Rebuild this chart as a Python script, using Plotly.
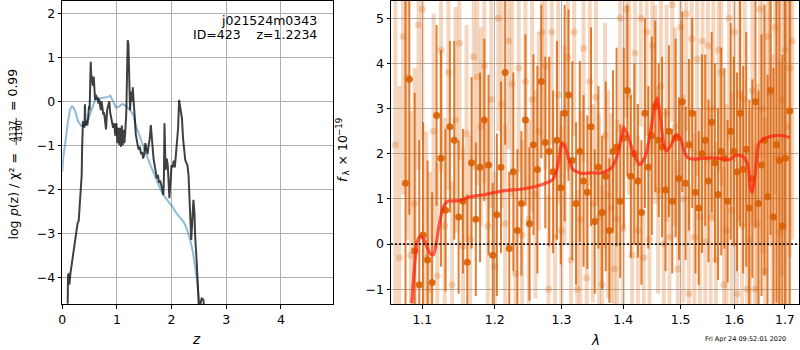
import plotly.graph_objects as go
import math

# ---------------- Left panel: log p(z) ----------------
pz_z = [0.099, 0.105, 0.12, 0.13, 0.15, 0.18, 0.21, 0.25, 0.28, 0.30,
        0.32, 0.34, 0.355, 0.362, 0.37, 0.378, 0.385, 0.395, 0.405, 0.415,
        0.425, 0.44, 0.46, 0.475, 0.49, 0.50, 0.51, 0.52, 0.53, 0.545,
        0.56, 0.575, 0.59, 0.60, 0.615, 0.63, 0.645, 0.66, 0.675, 0.69,
        0.705, 0.72, 0.735, 0.75, 0.765, 0.78, 0.80, 0.82, 0.84, 0.86,
        0.875, 0.89, 0.91, 0.93, 0.95, 0.97, 0.99, 1.01, 1.03, 1.045,
        1.06, 1.075, 1.09, 1.105, 1.12, 1.135, 1.15, 1.17, 1.185, 1.197,
        1.21, 1.225, 1.24, 1.255, 1.265, 1.28, 1.29, 1.30, 1.31, 1.326,
        1.345, 1.36, 1.38, 1.40, 1.42, 1.44, 1.46, 1.48, 1.50, 1.52,
        1.54, 1.56, 1.58, 1.60, 1.62, 1.635, 1.65, 1.67, 1.69, 1.71,
        1.73, 1.75, 1.77, 1.79, 1.81, 1.83, 1.85, 1.86, 1.87, 1.88,
        1.89, 1.91, 1.93, 1.96, 1.98, 2.00, 2.02, 2.04, 2.06, 2.08,
        2.10, 2.12, 2.137, 2.16, 2.19, 2.21, 2.23, 2.25, 2.27, 2.29,
        2.31, 2.33, 2.34, 2.36, 2.38, 2.40, 2.42, 2.43, 2.46, 2.48,
        2.50, 2.53, 2.55, 2.58, 2.60]
pz_logp = [-4.6, -3.95, -3.91, -4.17, -3.9, -3.64, -3.45, -3.04, -2.77, -2.72,
           -2.24, -1.98, -1.67, -1.1, -0.6, -0.45, -0.55, -0.5, -0.6, -0.07,
           -0.55, -0.45, -0.55, -0.35, -0.1, -0.2, 0.3, 0.9, 0.6, 0.41,
           0.35, 0.56, 0.25, 0.03, 0.15, 0.05, 0.1, -0.05, 0.05, -0.1,
           -0.2, 0.0, -0.15, -0.3, -0.25, -0.5, -0.64, -0.2, -0.05, 0.0,
           -0.25, -0.35, -0.45, -0.6, -0.5, -0.78, -0.5, -0.95, -0.6, -1.0,
           -0.6, -1.03, -0.55, -1.0, -0.65, -0.95, -0.75, -0.3, 0.6, 1.39,
           1.3, 0.49, -0.2, 0.1, 0.22, 0.0, 0.32, 0.1, -0.25, -0.35,
           -0.75, -0.9, -1.0, -1.1, -1.03, -1.2, -1.15, -1.3, -1.2, -0.95,
           -1.1, -1.2, -1.0, -0.85, -0.54, -0.8, -1.05, -1.3, -1.45, -1.6,
           -1.75, -1.67, -1.85, -1.8, -1.95, -2.0, -2.13, -1.7, -0.5, -0.9,
           -1.56, -1.3, -1.45, -2.2, -1.7, -1.45, -1.5, -1.35, -1.5, -1.2,
           -1.0, -0.6, 0.03, -0.2, -0.39, -0.85, -1.1, -1.33, -1.4, -1.45,
           -1.67, -2.2, -2.58, -3.15, -2.7, -2.24, -2.55, -3.04, -3.65, -4.2,
           -4.7, -4.6, -4.48, -4.5, -4.7]

prior_z = [0.0, 0.02, 0.05, 0.08, 0.10, 0.14, 0.18, 0.23, 0.29, 0.35,
           0.41, 0.48, 0.54, 0.60, 0.69, 0.78, 0.84, 0.88, 0.93, 0.98,
           1.04, 1.10, 1.17, 1.24, 1.30, 1.36, 1.42, 1.48, 1.54, 1.60,
           1.66, 1.73, 1.79, 1.85, 1.91, 1.97, 2.03, 2.09, 2.15, 2.22,
           2.28, 2.34, 2.39, 2.43, 2.47, 2.51]
prior_logp = [-1.6, -1.25, -0.99, -0.65, -0.49, -0.2, -0.1, -0.2, -0.46, -0.56,
              -0.54, -0.39, -0.2, 0.03, 0.07, 0.08, 0.1, 0.13, -0.01, -0.14,
              -0.12, -0.06, -0.11, -0.2, -0.31, -0.61, -0.8, -1.03, -1.22, -1.41,
              -1.6, -1.79, -1.98, -2.13, -2.22, -2.32, -2.42, -2.55, -2.64, -2.74,
              -2.9, -3.15, -3.42, -3.72, -4.1, -4.6]

# ---------------- Right panel: spectrum ----------------
dark_wave = [1.078, 1.083, 1.090, 1.096, 1.101, 1.107, 1.113, 1.119, 1.125, 1.131,
             1.137, 1.143, 1.149, 1.155, 1.161, 1.167, 1.173, 1.179, 1.185, 1.191,
             1.197, 1.203, 1.209, 1.215, 1.221, 1.227, 1.233, 1.239, 1.245, 1.251,
             1.257, 1.263, 1.269, 1.275, 1.281, 1.287, 1.293, 1.299, 1.305, 1.311,
             1.317, 1.323, 1.329, 1.335, 1.341, 1.347, 1.353, 1.359, 1.365, 1.371,
             1.377, 1.383, 1.389, 1.395, 1.401, 1.407, 1.413, 1.419, 1.425, 1.431,
             1.437, 1.443, 1.449, 1.455, 1.461, 1.467, 1.473, 1.479, 1.485, 1.491,
             1.497, 1.503, 1.509, 1.515, 1.521, 1.527, 1.533, 1.539, 1.545, 1.551,
             1.557, 1.563, 1.569, 1.575, 1.581, 1.587, 1.593, 1.599, 1.605, 1.611,
             1.617, 1.623, 1.629, 1.635, 1.641, 1.647, 1.653, 1.659, 1.665, 1.671,
             1.677, 1.683, 1.689, 1.695, 1.701, 1.710]
dark_flux = [1.35, 3.65, -0.15, -0.9, 0.2, -0.35, -0.85, 2.85, 1.9, 0.75,
             2.6, 2.3, 0.6, 0.95, -0.4, 1.8, 0.55, 1.7, 2.75, 1.75,
             -0.25, 0.65, 1.7, 3.8, -0.1, 1.6, 0.3, 0.9, 2.75, 0.45,
             2.2, 1.65, 3.6, 2.25, 2.05, 1.6, 2.3, 1.25, 2.9, 3.3,
             1.85, 0.9, 2.05, 1.4, 1.15, 2.6, 0.5, 1.7, 0.7, 1.5,
             0.3, 2.05, 2.15, 0.95, 2.35, 3.4, 1.5, 2.0, 1.4, 0.7,
             2.9, 1.7, 2.4, 3.05, 2.3, 2.15, 1.2, 2.5, 0.95, 2.35,
             1.45, 3.15, 1.35, 2.2, 2.9, 1.15, 0.8, 2.0, 2.3, 1.4,
             2.7, 1.8, 1.1, 2.05, 1.9, 0.95, 2.5, 2.05, 1.6, 2.9,
             1.65, 2.1, 0.8, 1.45, 3.15, 0.9, 1.75, 2.3, 1.05, 3.4,
             0.6, 2.2, 1.85, 0.4, 1.9, 2.95]
dark_err = [4.5, 3.0, 3.5, 3.2, 2.5, 2.2, 2.0, 2.0, 2.4, 1.8,
            1.9, 2.2, 1.7, 1.6, 1.5, 1.9, 1.7, 2.1, 1.8, 2.0,
            1.6, 1.8, 1.9, 1.6, 1.7, 2.2, 1.8, 1.6, 1.9, 1.7,
            2.0, 2.3, 1.7, 1.9, 2.1, 1.8, 2.2, 1.7, 2.4, 1.9,
            2.2, 1.8, 2.0, 1.9, 1.7, 2.2, 1.6, 1.8, 1.7, 2.1,
            1.6, 1.8, 2.2, 1.7, 2.0, 1.9, 1.8, 2.0, 1.7, 1.6,
            2.1, 1.8, 2.2, 1.9, 1.7, 2.0, 1.8, 1.9, 1.6, 2.2,
            1.8, 2.0, 1.7, 1.9, 2.1, 1.8, 1.7, 2.2, 1.9, 1.8,
            2.0, 2.2, 1.9, 2.3, 2.0, 1.8, 2.4, 2.1, 2.2, 2.5,
            2.3, 2.6, 2.4, 2.2, 2.8, 2.5, 2.9, 3.0, 2.7, 3.2,
            3.3, 3.5, 3.6, 3.8, 4.0, 4.5]

light_wave = [1.065, 1.070, 1.075, 1.080, 1.085, 1.090, 1.095, 1.100, 1.105, 1.110,
              1.115, 1.120, 1.125, 1.130, 1.135, 1.140, 1.145, 1.150, 1.155, 1.160,
              1.165, 1.170, 1.175, 1.180, 1.185, 1.190, 1.195, 1.200, 1.205, 1.210,
              1.215, 1.220, 1.225, 1.230, 1.235, 1.240, 1.245, 1.250, 1.255, 1.260,
              1.265, 1.270, 1.275, 1.280, 1.285, 1.290, 1.295, 1.300, 1.305, 1.310,
              1.315, 1.320, 1.325, 1.330, 1.335, 1.340, 1.345, 1.350, 1.355, 1.360,
              1.365, 1.370, 1.375, 1.380, 1.385, 1.390, 1.395, 1.400, 1.405, 1.410,
              1.415, 1.420, 1.425, 1.430, 1.435, 1.440, 1.445, 1.450, 1.455, 1.460,
              1.465, 1.470, 1.475, 1.480, 1.485, 1.490, 1.495, 1.500, 1.505, 1.510,
              1.515, 1.520, 1.525, 1.530, 1.535, 1.540, 1.545, 1.550, 1.555, 1.560,
              1.565, 1.570, 1.575, 1.580, 1.585, 1.590, 1.595, 1.600, 1.605, 1.610,
              1.615, 1.620, 1.625, 1.630, 1.635, 1.640, 1.645, 1.650, 1.655, 1.660,
              1.665, 1.670, 1.675, 1.680, 1.685, 1.690, 1.695, 1.700, 1.705, 1.710,
              1.715]
light_flux = [2.2, -0.3, 4.6, 3.7, -0.25, 0.9, 4.85, 5.2, -0.3, -1.0,
              2.5, -0.7, 4.3, 0.4, 3.8, -0.9, 2.75, 4.45, -0.05, 2.45,
              0.1, 4.15, 3.7, 2.6, 3.95, 0.4, 3.2, -0.5, 5.0, 3.1,
              0.45, 4.5, 3.55, -0.65, 3.9, 0.2, 3.6, 0.55, 3.2, 1.1,
              2.5, 4.7, 3.95, -1.0, 4.7, 0.15, 3.3, 0.3, 2.2, 4.13,
              -0.35, 4.7, -1.0, 0.55, 4.33, -0.75, 3.6, 0.9, 3.25, 0.6,
              -0.9, 2.4, 1.1, 0.8, -0.55, 0.55, 5.0, 0.35, 5.2, 3.3,
              -0.25, 4.23, 0.3, 5.0, -0.3, 4.7, 0.1, 4.4, 3.1, 1.2,
              3.5, 0.0, 2.9, 0.15, 5.3, 2.6, -0.55, 4.8, 1.0, 5.1,
              -1.1, 4.55, 0.15, 4.1, 0.6, 4.5, 0.05, 4.4, 0.6, 3.0,
              -0.35, 4.3, 3.8, -0.9, 0.3, 5.0, 0.75, 4.7, -1.1, 3.3,
              0.4, 3.2, -1.0, 0.1, 3.4, -1.0, 0.45, 5.2, 3.0, -0.6,
              4.6, 3.35, 0.6, 4.8, 1.9, 0.25, 3.2, 4.3, 2.6, 3.9,
              4.5]
light_err = [4.0, 3.8, 3.5, 3.6, 3.2, 3.0, 3.2, 2.9, 2.8, 2.6,
             2.6, 2.5, 2.7, 2.4, 2.6, 2.3, 2.5, 2.6, 2.2, 2.4,
             2.3, 2.5, 2.4, 2.2, 2.6, 2.3, 2.4, 2.1, 2.5, 2.3,
             2.2, 2.4, 2.5, 2.2, 2.3, 2.1, 2.4, 2.2, 2.5, 2.3,
             2.2, 2.4, 2.3, 2.1, 2.5, 2.2, 2.4, 2.3, 2.2, 2.5,
             2.1, 2.3, 2.2, 2.4, 2.5, 2.1, 2.3, 2.2, 2.4, 2.3,
             2.2, 2.5, 2.3, 2.1, 2.4, 2.2, 2.5, 2.3, 2.4, 2.2,
             2.3, 2.5, 2.1, 2.4, 2.2, 2.3, 2.5, 2.4, 2.2, 2.3,
             2.5, 2.2, 2.4, 2.3, 2.6, 2.2, 2.4, 2.5, 2.3, 2.6,
             2.4, 2.5, 2.3, 2.6, 2.4, 2.5, 2.3, 2.6, 2.4, 2.5,
             2.6, 2.7, 2.5, 2.6, 2.8, 2.7, 2.6, 2.9, 2.7, 2.8,
             3.0, 2.8, 3.1, 2.9, 3.0, 3.2, 3.1, 3.3, 3.2, 3.4,
             3.5, 3.4, 3.6, 3.7, 3.5, 3.8, 3.9, 4.0, 4.1, 4.2,
             4.4]

model_wave = [1.0861, 1.0935, 1.0973, 1.1013, 1.1060, 1.1098, 1.1145, 1.1180, 1.1210, 1.1277,
              1.1345, 1.1500, 1.1640, 1.1877, 1.2113, 1.2404, 1.2704, 1.2860, 1.2930, 1.2981,
              1.3004, 1.3060, 1.3120, 1.3183, 1.3280, 1.3360, 1.3480, 1.3600, 1.3700, 1.3800,
              1.3900, 1.3960, 1.4010, 1.4080, 1.4180, 1.4287, 1.4380, 1.4470, 1.4530, 1.4585,
              1.4640, 1.4700, 1.4747, 1.4830, 1.4927, 1.5010, 1.5080, 1.5138, 1.5250, 1.5400,
              1.5550, 1.5720, 1.5880, 1.5950, 1.6000, 1.6080, 1.6180, 1.6240, 1.6277, 1.6310,
              1.6350, 1.6400, 1.6480, 1.6580, 1.6695, 1.6830, 1.6965, 1.7100]
model_flux = [-1.31, 0.06, 0.17, 0.12, -0.05, -0.2, -0.24, -0.05, 0.28, 0.8,
              0.95, 0.96, 1.04, 1.1, 1.18, 1.22, 1.32, 1.42, 1.65, 2.06,
              2.24, 2.15, 1.85, 1.65, 1.58, 1.56, 1.58, 1.57, 1.6, 1.68,
              1.95, 2.3, 2.58, 2.4, 2.0, 1.76, 1.95, 2.5, 3.0, 3.24,
              2.8, 2.2, 2.06, 2.2, 2.43, 2.3, 2.0, 1.91, 1.88, 1.9,
              1.91, 1.9, 1.87, 1.9, 1.95, 1.97, 1.93, 1.8, 1.65, 1.24,
              1.15, 1.5, 2.24, 2.33, 2.38, 2.41, 2.4, 2.36]

x_ticks_left = [0, 1, 2, 3, 4]
y_ticks_left = [-4, -3, -2, -1, 0, 1, 2]
x_ticks_right = [1.1, 1.2, 1.3, 1.4, 1.5, 1.6, 1.7]
y_ticks_right = [-1, 0, 1, 2, 3, 4, 5]

W, H = 800, 350
def PX(x):
    return x / W
def PY(y):
    return 1 - y / H

FONT = "DejaVu Sans"
ORANGE = "217,95,2"

fig = go.Figure()

# left panel
fig.add_trace(go.Scatter(x=prior_z, y=prior_logp, mode="lines",
                         line=dict(color="rgba(31,119,180,0.5)", width=2),
                         xaxis="x", yaxis="y", showlegend=False, hoverinfo="skip"))
fig.add_trace(go.Scatter(x=pz_z, y=pz_logp, mode="lines",
                         line=dict(color="rgba(0,0,0,0.75)", width=2),
                         xaxis="x", yaxis="y", showlegend=False, hoverinfo="skip"))

# right panel
fig.add_trace(go.Scatter(x=light_wave, y=light_flux, mode="markers",
                         marker=dict(color=f"rgba({ORANGE},0.25)", size=7, line=dict(width=0)),
                         error_y=dict(type="data", array=light_err, color=f"rgba({ORANGE},0.25)",
                                      thickness=4, width=0),
                         xaxis="x2", yaxis="y2", showlegend=False, hoverinfo="skip"))
fig.add_trace(go.Scatter(x=dark_wave, y=dark_flux, mode="markers",
                         marker=dict(color=f"rgba({ORANGE},0.9)", size=7, line=dict(width=0)),
                         error_y=dict(type="data", array=dark_err, color=f"rgba({ORANGE},0.8)",
                                      thickness=2, width=0),
                         xaxis="x2", yaxis="y2", showlegend=False, hoverinfo="skip"))
fig.add_trace(go.Scatter(x=model_wave, y=model_flux, mode="lines",
                         line=dict(color="rgba(255,35,15,0.72)", width=3.2, shape="spline", smoothing=0.6),
                         xaxis="x2", yaxis="y2", showlegend=False, hoverinfo="skip"))

axis_common = dict(showgrid=True, gridcolor="#b0b0b0", gridwidth=1, showline=True, linecolor="black",
                   linewidth=1, mirror=True, ticks="outside", ticklen=3.5, tickwidth=1,
                   tickcolor="black", zeroline=False, tickfont=dict(family=FONT, size=12.5, color="black"))

ydom = [PY(304), PY(1)]
fig.update_layout(
    width=W, height=H, margin=dict(l=0, r=0, t=0, b=0, pad=0, autoexpand=False), autosize=False,
    paper_bgcolor="white", plot_bgcolor="white",
    font=dict(family=FONT, size=12.5, color="black"),
    xaxis=dict(domain=[PX(62.3), PX(333.3)], range=[0, 4.96], tickvals=x_ticks_left,
               anchor="y", **axis_common),
    yaxis=dict(domain=ydom, range=[-4.607, 2.28], tickvals=y_ticks_left, anchor="x", **axis_common),
    xaxis2=dict(domain=[PX(391), PX(799)], type="log",
                range=[math.log10(1.0594), math.log10(1.7291)],
                tickvals=x_ticks_right, ticktext=[f"{v:.1f}" for v in x_ticks_right],
                anchor="y2", **axis_common),
    yaxis2=dict(domain=ydom, range=[-1.327, 5.384], tickvals=y_ticks_right, anchor="x2", **axis_common),
)

# zero line on spectrum
fig.add_shape(type="line", xref="x2 domain", yref="y2", x0=0, x1=1, y0=0, y1=0,
              line=dict(color="black", width=1.5, dash="2px,2px"), layer="above")

ann = []
def A(text, x, y, size=12.5, angle=0, xa="center", ya="middle", style="normal"):
    ann.append(dict(text=text, x=PX(x), y=PY(y), xref="paper", yref="paper", showarrow=False,
                    xanchor=xa, yanchor=ya, textangle=angle,
                    font=dict(family=FONT, size=size, color="black", style=style)))

A("j021524m0343", 318.5, 20, xa="right")
A("ID=423\u00a0\u00a0\u00a0\u00a0z=1.2234", 318.5, 34.5, xa="right")
A("z", 196.5, 339, size=13.5, style="italic")
A("λ", 595, 340, size=13.5, style="italic")
A("Fri Apr 24 09:52:01 2020", 788, 339, size=6.5, xa="right")
# left y label (rotated, built in pieces to mimic the mathtext layout)
A("log", 13.0, 230.5, angle=-90)
A("p", 13.0, 213.0, angle=-90, style="italic")
A("(z) / χ² =", 13.0, 181.3, angle=-90)
A("4137", 13.2, 131, size=8.5, angle=-90)
A("4190", 18.6, 131, size=8.5, angle=-90)
A("= 0.99", 13.0, 90, angle=-90)
# right y label pieces
A("f", 342.3, 178.8, angle=-90, style="italic")
A("λ", 346.0, 173.6, size=8.75, angle=-90)
A("× 10", 342.3, 150.2, angle=-90)
A("−19", 338.6, 127.5, size=8.75, angle=-90)
fig.update_layout(annotations=ann)
fig.add_shape(type="line", xref="paper", yref="paper", x0=PX(16.2), x1=PX(16.2), y0=PY(118), y1=PY(145),
              line=dict(color="black", width=0.8))

fig.write_html("out.html")
